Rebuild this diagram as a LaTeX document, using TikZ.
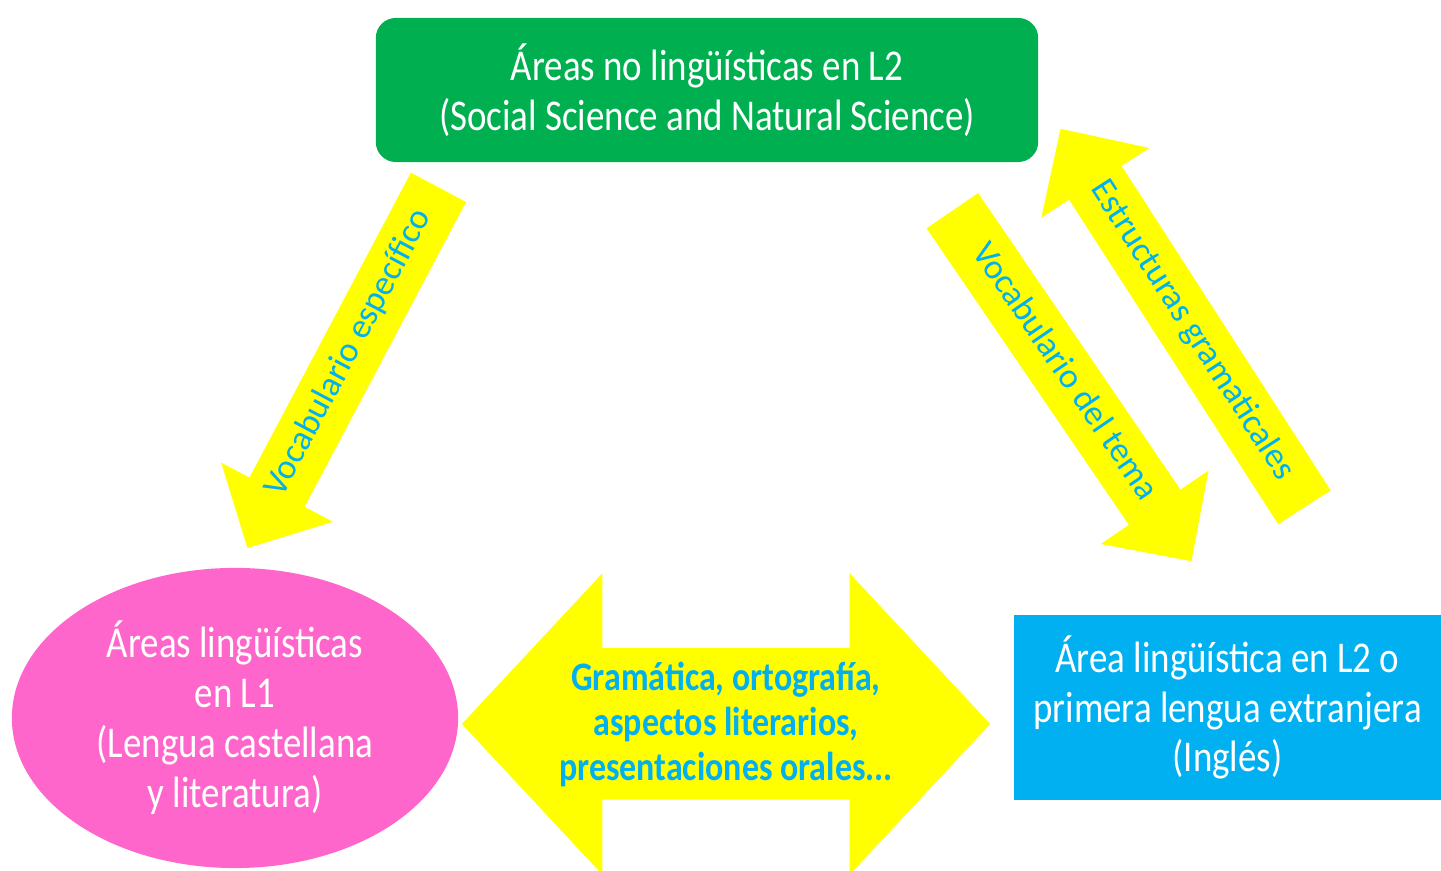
\documentclass[tikz,border=0pt]{standalone}
\usepackage{fontspec}
\setmainfont{Carlito}
\newfontfamily\angosta[FakeStretch=0.84]{Carlito}
\usepackage{tikz}
\usetikzlibrary{shapes.arrows,shapes.geometric}
\definecolor{verde}{HTML}{00B050}
\definecolor{rosa}{HTML}{FF66CC}
\definecolor{celeste}{HTML}{00B0F0}
\definecolor{amarillo}{HTML}{FFFF00}
\tikzset{
	area/.style={text=white, align=center, inner sep=0pt, font=\angosta\fontsize{12.5}{14.2}\selectfont},
	flecha/.style={single arrow, fill=amarillo, text=celeste, anchor=tip, inner xsep=0pt, inner ysep=0.16cm, text height=0.22cm, text depth=0.07cm, font=\fontsize{10}{12}\selectfont}
}
\begin{document}
\begin{tikzpicture}[x=0.01cm,y=-0.01cm]
				\useasboundingbox (0,0) rectangle (1441,871);
				% areas
				\node[area, fill=verde, rounded corners=0.2cm, minimum width=6.62cm, minimum height=1.44cm] (noling) at (707,90) {Áreas no lingüísticas en L2\\(Social Science and Natural Science)};
				\node[area, ellipse, fill=rosa, minimum width=4.46cm, minimum height=3cm] (lengua) at (235,718) {Áreas lingüísticas\\en L1\\(Lengua castellana\\y literatura)};
				\node[area, fill=celeste, minimum width=4.27cm, minimum height=1.85cm] (ingles) at (1227.5,707.5) {Área lingüística en L2 o\\primera lengua extranjera\\(Inglés)};
				% flechas
				\node[double arrow, fill=amarillo, minimum height=5.28cm, double arrow head extend=0.75cm, double arrow tip angle=94, inner xsep=0pt, inner ysep=0.75cm] (comun) at (726,724) {};
				\node[text=celeste, align=center, font=\angosta\bfseries\fontsize{11.5}{12.8}\selectfont] (comuntxt) at (comun.center) {Gramática, ortografía,\\aspectos literarios,\\presentaciones orales...};
				\node[flecha, minimum height=4.08cm, single arrow head extend=0.32cm, rotate=62.1, shape border rotate=180] (vocesp) at (247,549) {Vocabulario específico};
				\node[flecha, minimum height=4.24cm, single arrow head extend=0.34cm, rotate=-55.7] (voctema) at (1192,562) {Vocabulario del tema};
				\node[flecha, minimum height=4.5cm, single arrow head extend=0.33cm, rotate=-57.2, shape border rotate=180] (estruct) at (1060,128) {Estructuras gramaticales};
\end{tikzpicture}
\end{document}
